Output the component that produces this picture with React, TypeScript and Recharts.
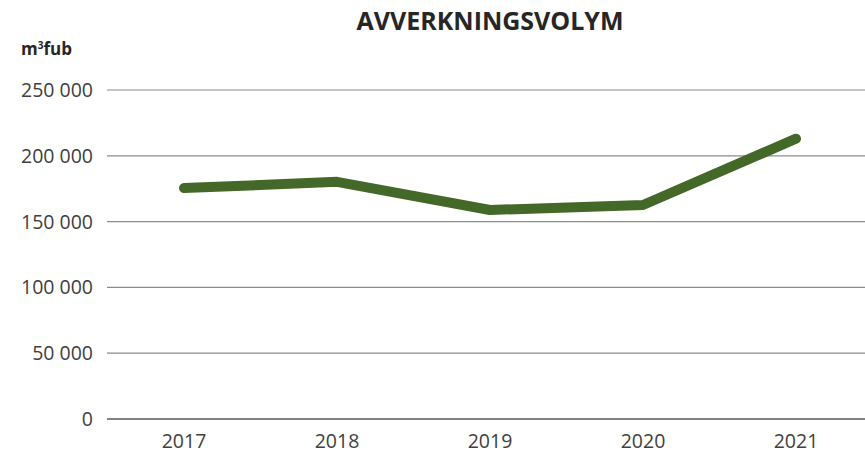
import React from "react";
import {CartesianGrid, Line, LineChart, XAxis, YAxis} from "recharts";

const YEARS = ['2017', '2018', '2019', '2020', '2021'];
const VOLUME = [175500, 180200, 158800, 162600, 213000];
const Y_TICKS = [0, 50000, 100000, 150000, 200000, 250000];

const data = YEARS.map((year, i) => ({year, volume: VOLUME[i]}));

const formatTick = (v: number) => String(v).replace(/\B(?=(\d{3})+(?!\d))/g, ' ');

const FONT = '"Open Sans", sans-serif';

export default function App() {
    return (
        <div style={{position: 'absolute', left: 0, top: 0, width: 865, height: 454, overflow: 'hidden', background: '#fff'}}>
            <div style={{position: 'absolute', left: 0, width: 980, top: 3, textAlign: 'center', fontFamily: FONT, fontWeight: 700, fontSize: 25, lineHeight: '34px', color: '#262626'}}>
                AVVERKNINGSVOLYM
            </div>
            <div style={{position: 'absolute', left: 21, top: 37, fontFamily: FONT, fontWeight: 700, fontSize: 17, lineHeight: '23px', color: '#262626'}}>
                m<span style={{fontSize: 10, position: 'relative', top: -6}}>3</span>fub
            </div>
            <LineChart width={873} height={454} data={data} margin={{top: 90, right: 0, bottom: 0, left: 0}}>
                <CartesianGrid vertical={false} stroke="#8c8c8c" strokeWidth={1.2}/>
                <XAxis dataKey="year" height={35} tickLine={false} padding={{left: 77, right: 77}}
                       axisLine={{stroke: '#404040', strokeWidth: 1.2}}
                       tick={{fill: '#404040', fontSize: 19.5, fontFamily: FONT}} tickMargin={9}/>
                <YAxis width={107} domain={[0, 250000]} ticks={Y_TICKS} tickFormatter={formatTick}
                       tickLine={false} axisLine={false} tickSize={0} tickMargin={14}
                       tick={{fill: '#404040', fontSize: 19.5, fontFamily: FONT}}/>
                <Line dataKey="volume" stroke="#436827" strokeWidth={10} dot={false} strokeLinecap="round"
                      strokeLinejoin="round" isAnimationActive={false}/>
            </LineChart>
        </div>
    );
}
